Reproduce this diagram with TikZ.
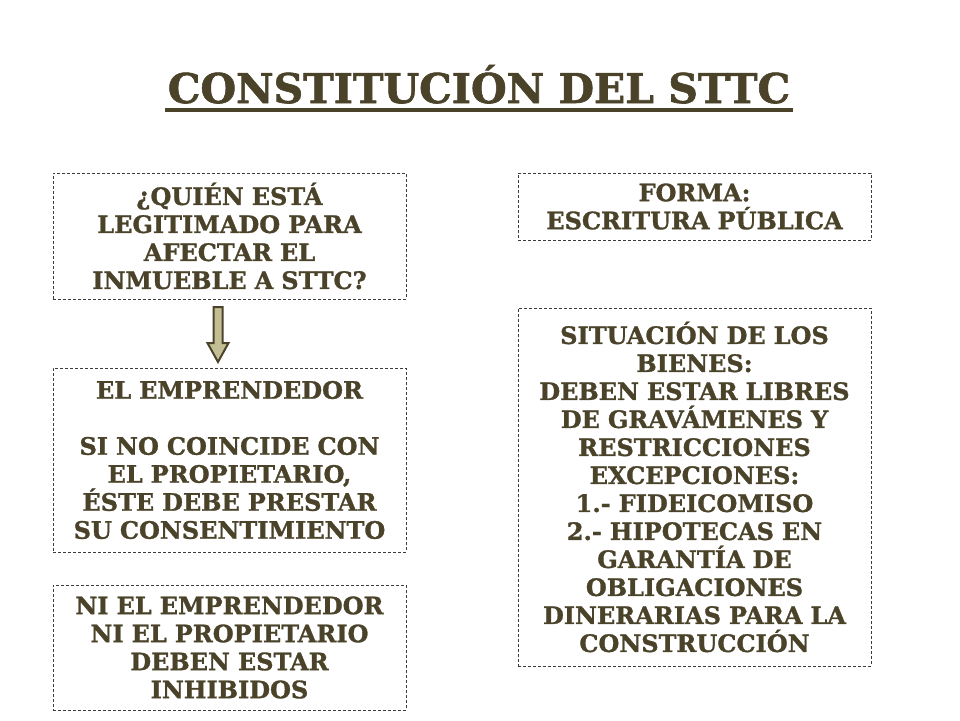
\documentclass[tikz,border=0pt]{standalone}
\usepackage{fontspec}
\setmainfont{DejaVu Serif}
\newfontfamily\boxfont{DejaVu Serif}[FakeBold=1.2]
\newfontfamily\titlefont{DejaVu Serif}[FakeBold=1.5]
\usetikzlibrary{calc}
\definecolor{olive}{RGB}{74,67,42}
\definecolor{khaki}{RGB}{196,190,148}
\definecolor{dashgray}{RGB}{60,60,60}
\tikzset{
  dbox/.style={draw=dashgray, line width=0.9pt, dash pattern=on 3pt off 2pt,
    align=center, inner sep=0pt, text=olive,
    font=\boxfont\bfseries\fontsize{24}{28}\selectfont},
  blockarrow/.style={draw=olive, line width=2pt, fill=khaki, line join=miter}
}
\begin{document}
\begin{tikzpicture}[x=1pt,y=-1pt]
\useasboundingbox (0,0) rectangle (960,720);
% title
\node[text=olive, font=\titlefont\bfseries\fontsize{41}{50}\selectfont, anchor=base] (title) at (479,103) {CONSTITUCIÓN DEL STTC};
\draw[olive, line width=3.5pt] (165,110) -- (793,110);
% boxes
\node[dbox, minimum width=353pt, minimum height=126pt, text width=350pt] (b1) at (229.5,236)
 {¿QUIÉN ESTÁ\\LEGITIMADO PARA\\AFECTAR EL\\INMUEBLE A STTC?};
\node[dbox, minimum width=353pt, minimum height=184pt, text width=350pt] (b2) at (229.5,460)
 {EL EMPRENDEDOR\\[28pt]SI NO COINCIDE CON\\EL PROPIETARIO,\\ÉSTE DEBE PRESTAR\\SU CONSENTIMIENTO\\[4pt]};
\node[dbox, minimum width=353pt, minimum height=125pt, text width=350pt] (b3) at (229.5,647.5)
 {NI EL EMPRENDEDOR\\NI EL PROPIETARIO\\DEBEN ESTAR\\INHIBIDOS};
\node[dbox, minimum width=353pt, minimum height=67pt, text width=350pt] (b4) at (694.5,206.5)
 {FORMA:\\ESCRITURA PÚBLICA};
\node[dbox, minimum width=353pt, minimum height=358pt, text width=350pt] (b5) at (694.5,487)
 {SITUACIÓN DE LOS\\BIENES:\\DEBEN ESTAR LIBRES\\DE GRAVÁMENES Y\\RESTRICCIONES\\EXCEPCIONES:\\1.- FIDEICOMISO\\2.- HIPOTECAS EN\\GARANTÍA DE\\OBLIGACIONES\\DINERARIAS PARA LA\\CONSTRUCCIÓN\\[6pt]};
% block arrow
\draw[blockarrow] (213.5,307) -- (222.5,307) -- (222.5,343) -- (228.5,343) -- (218,362)
  -- (207.5,343) -- (213.5,343) -- cycle;
\end{tikzpicture}
\end{document}
